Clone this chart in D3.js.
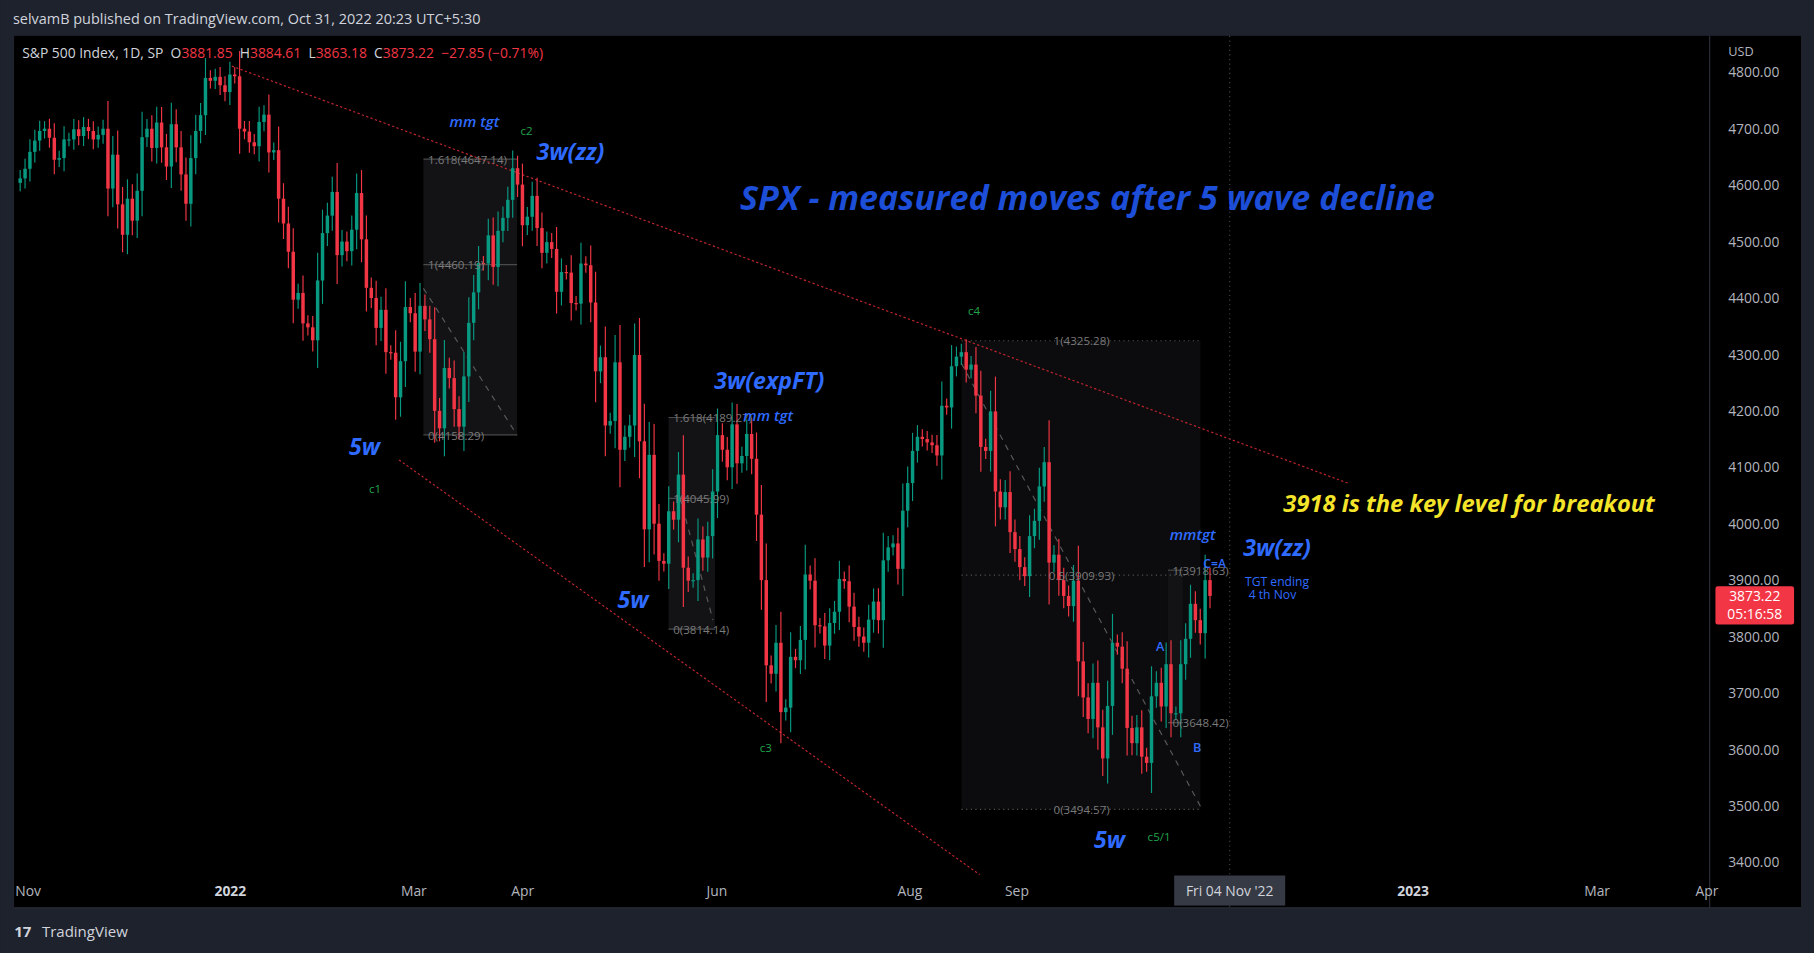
<!DOCTYPE html>
<html><head><meta charset="utf-8">
<script src="https://cdn.jsdelivr.net/npm/d3@7"></script>
<style>body{margin:0;background:#1e222d;overflow:hidden}svg{display:block;font-family:"Open Sans","DejaVu Sans",sans-serif}</style>
</head><body><svg id="c" width="1814" height="953" viewBox="0 0 1568 824"></svg>
<script>
// daily closes, ~Oct 29 2021 .. Oct 31 2022
const closes = [4605,4613,4630,4660,4680,4697,4701,4685,4646,4649,4682,4682,4700,4688,4704,4697,4682,4690,4701,4595,4655,4567,4513,4577,4538,4591,4686,4701,4667,4712,4668,4634,4709,4668,4620,4568,4649,4697,4725,4791,4786,4793,4778,4766,
4797,4794,4701,4696,4677,4670,4713,4726,4659,4663,4577,4533,4483,4398,4410,4356,4349,4326,4432,4516,4547,4589,4477,4501,4484,4522,4587,4505,4419,4401,4348,4380,4305,4304,4225,4289,4385,4374,4306,4387,4363,4328,4201,4170,4277,4259,4204,4173,4262,4357,4411,4463,4462,4512,4456,4520,4543,4575,4631,4602,4530,4545,4582,4525,4481,4500,4488,4412,4447,4446,4392,4391,4462,4459,4393,4271,4296,4175,4183,4287,4132,4155,4175,4300,4147,3991,4123,4001,3935,3930,4023,4008,4088,3923,3900,3901,3973,3941,3979,4058,4158,4132,4101,4177,4108,4121,4160,4116,4017,3901,3750,3735,3790,3667,3675,3765,3759,3795,3911,3900,3821,3819,3785,3825,3845,3903,3899,3854,3818,3801,3790,3831,3863,3830,3936,3959,3966,3921,4024,4073,4130,4155,4151,4145,4140,4122,4210,4207,4280,4297,4305,4274,4283,4228,4137,4130,4200,4058,4030,4057,3986,3956,3924,3908,3979,4006,4067,4110,3932,3946,3901,3873,3855,3900,3757,3693,3655,3719,3640,3585,3678,3790,3783,3744,3639,3612,3640,3588,3577,3695,3719,3677,3752,3665,3665,3752,3797,3859,3830,3807,3901,3873];
const priceTicks = [3400,3500,3600,3700,3800,3900,4000,4100,4200,4300,4400,4500,4600,4700,4800];
const timeLabels = ["Nov","2022","Mar","Apr","Jun","Aug","Sep","2023","Mar","Apr"];
const timeIdx = [2.7,45,83.4,106.2,146.8,187.2,209.6,292.5,331,354]; // trading-day positions (last bar = 250)
const upperLine = [[45.3,4812],[278.8,4073]];
const lowerLine = [[80.3,4114],[201.8,3379]];
// fib boxes: [x0,x1,top,mid,bottom, label top, label mid, label bottom]
const fibs = [
  [85.4,105,4647.14,4460,4158.29,"1.618(4647.14)","1(4460.19)","0(4158.29)"],
  [136.7,146.4,4189.27,4045.99,3814.14,"1.618(4189.27)","1(4045.99)","0(3814.14)"],
  [198,248,4325.28,3909.93,3494.57,"1(4325.28)","0.5(3909.93)","0(3494.57)"],
  [241.2,244.3,3918.63,3648.42,3648.42,"1(3918.63)","0(3648.42)",""]
];
const dashes = [[[85.4,4418],[105,4158]],[[139,4050],[146,3830]],[[198,4285],[248,3500]]];

const svg = d3.select("#c");
const L = 12, R = 1478, T = 31, B = 785;
const x = d3.scaleLinear().domain([0, 250]).range([13, 1046]);
const y = d3.scaleLinear().domain([3400, 4800]).range([746, 63]);
const xs = i => x(i * 250 / (closes.length - 1));

svg.append("rect").attr("width", 1568).attr("height", 824).attr("fill", "#1e222d");
svg.append("rect").attr("x", L).attr("y", T).attr("width", 1545).attr("height", B - T).attr("fill", "#000");
svg.append("line").attr("x1", R).attr("x2", R).attr("y1", T).attr("y2", B).attr("stroke", "#2a2e39");
svg.append("line").attr("x1", L).attr("x2", 1557).attr("y1", B).attr("y2", B).attr("stroke", "#2a2e39");
svg.append("text").attr("x", 11).attr("y", 21).attr("fill", "#d1d4dc").attr("font-size", 12.5).text("selvamB published on TradingView.com, Oct 31, 2022 20:23 UTC+5:30");

const fb = fibs[2];
// fib boxes
fibs.forEach(f => {
  const g = svg.append("g");
  g.append("rect").attr("x", x(f[0])).attr("y", y(f[2])).attr("width", x(f[1]) - x(f[0])).attr("height", y(f[4]) - y(f[2])).attr("fill", f === fb ? "#0c0c0e" : "#131316");
  if (f !== fb) [f[2], f[3], f[4]].forEach(v => g.append("line").attr("x1", x(f[0])).attr("x2", x(f[1])).attr("y1", y(v)).attr("y2", y(v)).attr("stroke", "#4a4a4a"));
});
[fb[2], fb[3], fb[4]].forEach(v => svg.append("line").attr("x1", x(fb[0])).attr("x2", x(fb[1])).attr("y1", y(v)).attr("y2", y(v)).attr("stroke", "#555").attr("stroke-dasharray", "1,3"));
dashes.forEach(d => svg.append("line").attr("x1", x(d[0][0])).attr("y1", y(d[0][1])).attr("x2", x(d[1][0])).attr("y2", y(d[1][1])).attr("stroke", "#5a5a5a").attr("stroke-dasharray", "5,5"));

// trend lines
[upperLine, lowerLine].forEach(l => svg.append("line").attr("x1", x(l[0][0])).attr("y1", y(l[0][1])).attr("x2", x(l[1][0])).attr("y2", y(l[1][1])).attr("stroke", "#c2262e").attr("stroke-dasharray", "2,2"));

// candles
const bars = closes.slice(1).map((c, i) => {
  const o = closes[i]; const w = Math.abs(c - o) * 0.35 + 12;
  return { i: i + 1, o, c, h: Math.max(o, c) + w, l: Math.min(o, c) - w };
});
const cg = svg.append("g");
bars.forEach(b => {
  const col = b.c >= b.o ? "#089981" : "#f23645";
  cg.append("line").attr("x1", xs(b.i)).attr("x2", xs(b.i)).attr("y1", y(b.h)).attr("y2", y(b.l)).attr("stroke", col);
  cg.append("rect").attr("x", xs(b.i) - 1.5).attr("width", 3).attr("y", y(Math.max(b.o, b.c))).attr("height", Math.max(1, Math.abs(y(b.o) - y(b.c)))).attr("fill", col);
});

// fib labels
fibs.forEach(f => {
  [[f[2], f[5]], [f[3], f[6]], [f[4], f[7]]].forEach(([v, t]) => svg.append("text")
    .attr("x", f === fb ? 935 : x(f[0]) + 4).attr("y", y(v) + 4).attr("fill", "#7a7a7a").attr("font-size", 10)
    .attr("text-anchor", f === fb ? "middle" : "start").text(t));
});

// crosshair line
svg.append("line").attr("x1", 1063).attr("x2", 1063).attr("y1", T).attr("y2", B).attr("stroke", "#444").attr("stroke-dasharray", "1,3");

// price axis
priceTicks.forEach(p => svg.append("text").attr("x", 1494).attr("y", y(p) + 4).attr("fill", "#b2b5be").attr("font-size", 12).text(p.toFixed(2)));
svg.append("text").attr("x", 1494).attr("y", 48).attr("fill", "#b2b5be").attr("font-size", 11).text("USD");
svg.append("rect").attr("x", 1483).attr("y", 507).attr("width", 68).attr("height", 33).attr("rx", 2).attr("fill", "#f23645");
svg.append("text").attr("x", 1517).attr("y", 520).attr("fill", "#fff").attr("font-size", 12).attr("text-anchor", "middle").text("3873.22");
svg.append("text").attr("x", 1517).attr("y", 535).attr("fill", "#fff").attr("font-size", 12).attr("text-anchor", "middle").text("05:16:58");

// time axis
timeLabels.forEach((t, k) => svg.append("text").attr("x", x(timeIdx[k])).attr("y", 775).attr("fill", /^\d/.test(t) ? "#d1d4dc" : "#b2b5be").attr("font-weight", /^\d/.test(t) ? 700 : 400).attr("font-size", 12).attr("text-anchor", "middle").text(t));
svg.append("rect").attr("x", 1015).attr("y", 757).attr("width", 96).attr("height", 26).attr("fill", "#363a45");
svg.append("text").attr("x", 1063).attr("y", 775).attr("fill", "#d1d4dc").attr("font-size", 12).attr("text-anchor", "middle").text("Fri 04 Nov '22");

// legend line
const lg = svg.append("text").attr("x", 19).attr("y", 50).attr("font-size", 12);
[["S&P 500 Index, 1D, SP  ", "#d1d4dc"], ["O", "#d1d4dc"], ["3881.85  ", "#f23645"], ["H", "#d1d4dc"], ["3884.61  ", "#f23645"], ["L", "#d1d4dc"], ["3863.18  ", "#f23645"], ["C", "#d1d4dc"], ["3873.22  −27.85 (−0.71%)", "#f23645"]]
  .forEach(([t, c]) => lg.append("tspan").attr("fill", c).attr("xml:space", "preserve").text(t));

// annotations
const ann = [
  ["SPX - measured moves after 5 wave decline", 940, 182, 29.5, "#1d4ed8"],
  ["3w(zz)", 493, 138, 20, "#2f6bff"], ["mm tgt", 410, 110, 13, "#2f6bff"],
  ["3w(expFT)", 665, 336, 20, "#2f6bff"], ["mm tgt", 664, 364, 13, "#2f6bff"],
  ["5w", 315, 393, 20, "#2f6bff"], ["5w", 547, 526, 20, "#2f6bff"], ["5w", 959, 733, 20, "#2f6bff"],
  ["3w(zz)", 1104, 481, 20, "#2f6bff"], ["mmtgt", 1031, 467, 13, "#2f6bff"],
  ["A", 1003, 563, 11, "#2f6bff"], ["B", 1035, 650, 11, "#2f6bff"], ["C=A", 1050, 491, 10.5, "#2f6bff"]
];
ann.forEach(([t, ax, ay, fs, c]) => svg.append("text").attr("x", ax).attr("y", ay).attr("fill", c).attr("font-size", fs).attr("font-style", fs > 12 ? "italic" : "normal").attr("font-weight", fs > 15 ? 700 : 600).attr("text-anchor", "middle").text(t));
svg.append("text").attr("x", 1104).attr("y", 507).attr("fill", "#2f6bff").attr("font-size", 10.5).attr("text-anchor", "middle").text("TGT ending");
svg.append("text").attr("x", 1100).attr("y", 518).attr("fill", "#2f6bff").attr("font-size", 10.5).attr("text-anchor", "middle").text("4 th Nov");
svg.append("text").attr("x", 1270).attr("y", 443).attr("fill", "#f5e52a").attr("font-size", 20.5).attr("font-weight", 700).attr("font-style", "italic").attr("text-anchor", "middle").text("3918 is the key level for breakout");
[["c2", 455, 117], ["c1", 324, 426], ["c4", 842, 272], ["c3", 662, 650], ["c5/1", 1002, 727]].forEach(([t, ax, ay]) => svg.append("text").attr("x", ax).attr("y", ay).attr("fill", "#22a34a").attr("font-size", 10).attr("text-anchor", "middle").text(t));

// footer
svg.append("text").attr("x", 12).attr("y", 810).attr("fill", "#d1d4dc").attr("font-size", 13).attr("font-weight", 700).text("17");
svg.append("text").attr("x", 36).attr("y", 810).attr("fill", "#d1d4dc").attr("font-size", 13).text("TradingView");
</script></body></html>
